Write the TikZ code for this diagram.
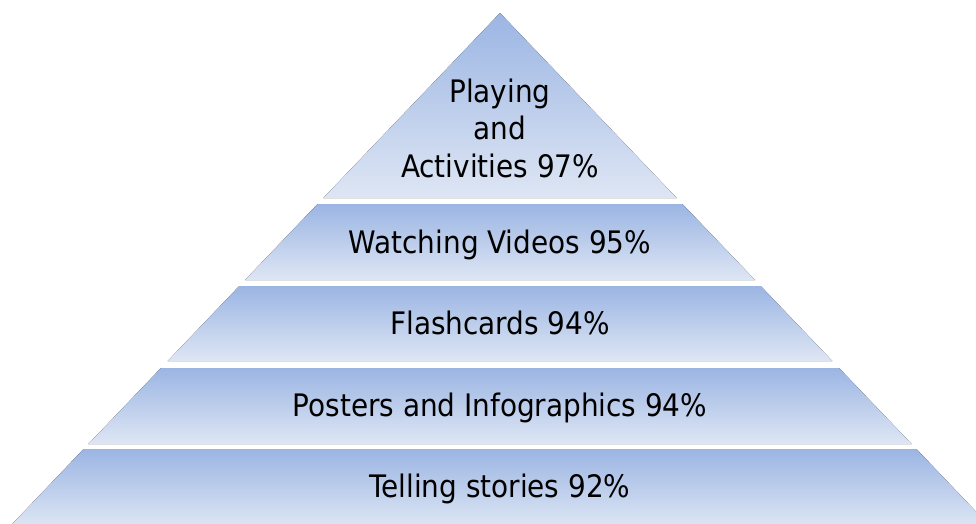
\documentclass[tikz,border=0pt]{standalone}
\usepackage{fontspec}
\setmainfont{DejaVu Sans Condensed}
\usepackage{tikz}
\definecolor{pyrtop}{RGB}{155,181,227}
\definecolor{pyrbot}{RGB}{222,230,244}
\begin{document}
\begin{tikzpicture}[x=1pt,y=-1pt,font=\fontsize{31}{37.5}\selectfont,
layer/.style={top color=pyrtop, bottom color=pyrbot, draw=none},
label/.style={align=center, text=black, inner sep=0pt, anchor=base}]
\useasboundingbox (0,0) rectangle (976,523);
\clip (0,0) rectangle (976,523);
% pyramid, one layer after another
\fill[layer] (500,13) -- (676.7,198) -- (323.3,198) -- cycle;
\fill[layer] (317.6,204) -- (682.4,204) -- (755,280) -- (245,280) -- cycle;
\fill[layer] (239.3,286) -- (760.7,286) -- (832.3,361) -- (167.7,361) -- cycle;
\fill[layer] (161,368) -- (839,368) -- (911.6,444) -- (88.4,444) -- cycle;
\fill[layer] (83.6,449) -- (916.4,449) -- (990.6,527) -- (9.4,527) -- cycle;
% texts
\node[label] (play) at (500,177) {Playing\\and\\Activities 97\%};
\node[label] (video) at (500,253) {Watching Videos 95\%};
\node[label] (flash) at (500,334.5) {Flashcards 94\%};
\node[label] (poster) at (500,416) {Posters and Infographics 94\%};
\node[label] (story) at (500,497) {Telling stories 92\%};
\end{tikzpicture}
\end{document}
